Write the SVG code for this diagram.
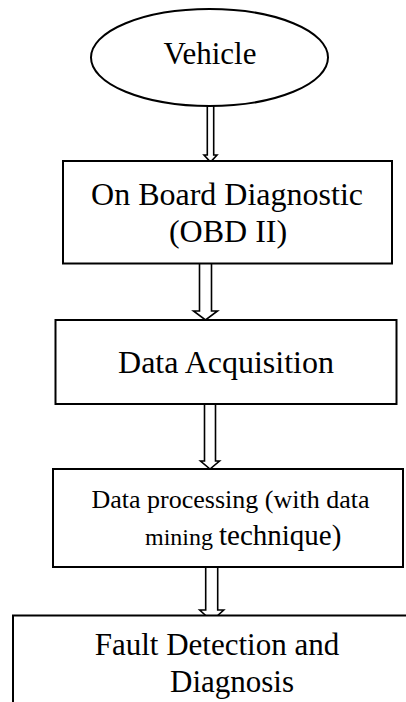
<svg xmlns="http://www.w3.org/2000/svg" width="406" height="702" viewBox="0 0 406 702">
<style>
  .shape { fill: #ffffff; stroke: #000000; stroke-width: 2; }
  .arrow { fill: #ffffff; stroke: #000000; stroke-width: 1.6; stroke-linejoin: miter; }
  .lbl { font-family: "Liberation Serif", "Times New Roman", serif; fill: #000000; }
</style>
<rect x="0" y="0" width="406" height="702" fill="#ffffff"/>
<g id="connectors">
  <polyline class="arrow" points="207.3,106 207.3,155 204,155 210.5,162 217,155 213.7,155 213.7,106"/>
  <polyline class="arrow" points="199.5,264 199.5,311 193.5,311 205.5,320 217.5,311 211.5,311 211.5,264"/>
  <polyline class="arrow" points="204.5,404 204.5,461 200.5,461 210,469 219.5,461 215.5,461 215.5,404"/>
  <polyline class="arrow" points="205.7,568 205.7,610 199.7,610 211.7,621 223.7,610 217.7,610 217.7,568"/>
</g>
<g id="vehicle">
  <ellipse class="shape" cx="209.5" cy="57.5" rx="118.5" ry="48.5"/>
  <text class="lbl" x="210" y="63.5" font-size="31" text-anchor="middle">Vehicle</text>
</g>
<g id="obd">
  <rect class="shape" x="63" y="161" width="329" height="102.5"/>
  <text class="lbl" x="227" y="205" font-size="32" text-anchor="middle">On Board Diagnostic</text>
  <text class="lbl" x="228" y="241.5" font-size="32" text-anchor="middle">(OBD II)</text>
</g>
<g id="acquisition">
  <rect class="shape" x="55.5" y="320" width="341" height="84"/>
  <text class="lbl" x="226" y="373.3" font-size="32" text-anchor="middle">Data Acquisition</text>
</g>
<g id="processing">
  <rect class="shape" x="53" y="469" width="350" height="98"/>
  <text class="lbl" x="230.5" y="508.3" font-size="26" text-anchor="middle">Data processing (with data</text>
  <text class="lbl" x="145" y="545" font-size="24">mining <tspan font-size="29">technique)</tspan></text>
</g>
<g id="fault">
  <polyline class="shape" points="13,703 13,615.5 408,615.5"/>
  <text class="lbl" x="217" y="655" font-size="31" text-anchor="middle">Fault Detection and</text>
  <text class="lbl" x="232" y="692" font-size="31" text-anchor="middle">Diagnosis</text>
</g>
</svg>
